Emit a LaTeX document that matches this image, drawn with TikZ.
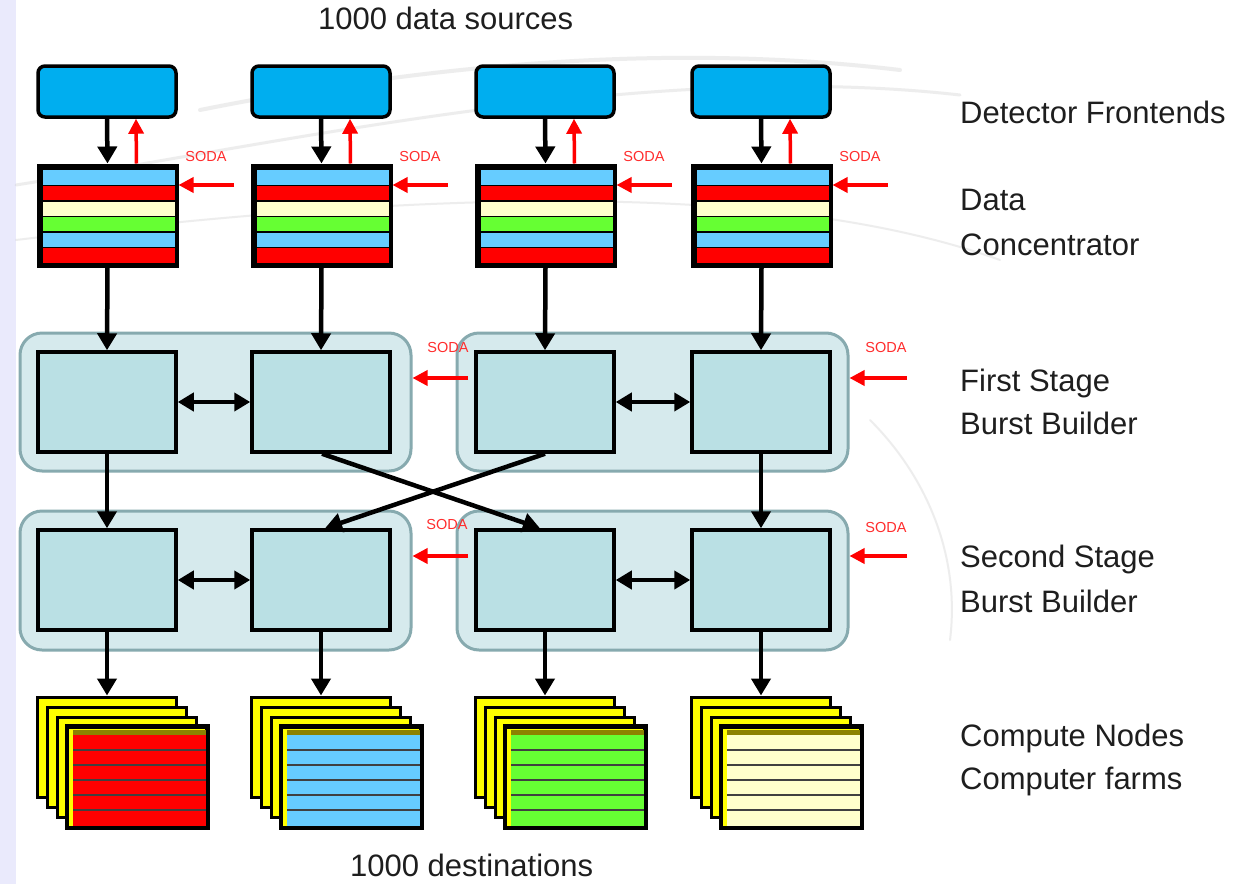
\documentclass[tikz,border=0pt]{standalone}
\usepackage{fontspec}
\setmainfont{Liberation Sans}
\usetikzlibrary{arrows.meta,calc}
\definecolor{feblue}{RGB}{0,174,239}
\definecolor{lblue}{RGB}{102,204,255}
\definecolor{sred}{RGB}{255,0,0}
\definecolor{cream}{RGB}{255,255,204}
\definecolor{sgreen}{RGB}{102,255,51}
\definecolor{grpfill}{RGB}{214,234,237}
\definecolor{grpdraw}{RGB}{135,170,175}
\definecolor{boxfill}{RGB}{186,224,228}
\definecolor{cardy}{RGB}{255,255,0}
\definecolor{olive}{RGB}{140,130,0}
\definecolor{lav}{RGB}{234,234,252}
\definecolor{sodared}{RGB}{255,45,45}
\definecolor{txt}{RGB}{30,30,30}
\definecolor{swoosh}{RGB}{205,205,205}
\tikzset{
 fe/.style={draw=black, line width=3.5pt, rounded corners=7pt, fill=feblue, minimum width=138pt, minimum height=51pt, inner sep=0pt},
 dcbox/.style={draw=black, line width=3pt, fill=black, minimum width=139pt, minimum height=101pt, inner sep=0pt},
 grp/.style={draw=grpdraw, line width=3pt, fill=grpfill, rounded corners=22pt, minimum width=391pt, minimum height=138pt, inner sep=0pt},
 bbox/.style={draw=black, line width=3.5pt, fill=boxfill, minimum width=138pt, minimum height=100pt, inner sep=0pt},
 card/.style={draw=black, line width=3pt, fill=cardy, minimum width=139pt, minimum height=100pt, inner sep=0pt},
 blk/.style={draw=black, line width=4.5pt, -{Triangle[length=17pt,width=19pt]}},
 dbl/.style={draw=black, line width=4.5pt, {Triangle[length=16pt,width=18pt]}-{Triangle[length=16pt,width=18pt]}},
 rarr/.style={draw=red, line width=3.5pt, -{Triangle[length=15pt,width=15pt]}},
 soda/.style={text=sodared, font=\fontsize{14.5}{16}\selectfont, inner sep=0pt},
 lbl/.style={text=txt, font=\fontsize{31}{36}\selectfont, inner sep=0pt, anchor=base west},
 swo/.style={draw=swoosh, opacity=0.35, line cap=round},
}
\begin{document}
\begin{tikzpicture}[x=1pt,y=-1pt]
\useasboundingbox (0,0) rectangle (1235,884);
\fill[white] (0,0) rectangle (1235,884);
\fill[lav] (0,0) rectangle (16,884);
% faint background swooshes
\draw[swo, line width=3pt] (16,185) .. controls (300,140) and (650,60) .. (960,95);
\draw[swo, line width=2pt] (16,240) .. controls (350,200) and (750,170) .. (1000,260);
\draw[swo, line width=4pt] (200,110) .. controls (400,70) and (650,40) .. (900,70);
\draw[swo, line width=2pt] (870,420) .. controls (930,480) and (960,560) .. (950,640);
% burst builder groups
\node[grp] (g1) at (215.5,402) {};
\node[grp] (g2) at (652.5,402) {};
\node[grp, minimum height=139pt] (g3) at (215.5,580.5) {};
\node[grp, minimum height=139pt] (g4) at (652.5,580.5) {};
\foreach \L/\c [count=\i] in {38/sred,252/lblue,476/sgreen,692/cream} {
  \node[fe] (fe\i) at (\L+69,91.5) {};
  \node[dcbox] (dc\i) at (\L+69.5,215.5) {};
  \foreach \col [count=\j from 0] in {lblue,sred,cream,sgreen,lblue,sred}
    \fill[\col] (\L+5,170+15.5*\j) rectangle (\L+137,185.5+15.5*\j);
  \foreach \j in {1,...,5}
    \draw[black, line width=1.2pt] (\L+5,170+15.5*\j) -- (\L+137,170+15.5*\j);
  \node[bbox] (a\i) at (\L+69,402) {};
  \node[bbox] (b\i) at (\L+69,580) {};
  \node[card] (cn\i) at (\L+69,747) {};
  \node[card] (cnb\i) at (\L+79,757) {};
  \node[card] (cnc\i) at (\L+89,767) {};
  \node[card] (cnd\i) at (\L+99,777) {};
  \fill[olive] (\L+35,729.5) rectangle (\L+167.5,735);
  \fill[\c] (\L+35,735) rectangle (\L+167.5,825.5);
  \foreach \j in {1,...,5}
    \draw[black!75, line width=2.5pt] (\L+35,735+15*\j) -- (\L+167.5,735+15*\j);
  \draw[black, line width=3pt] (cnd\i.north west) rectangle (cnd\i.south east);
  % arrows
  \draw[blk] (fe\i.south) -- (dc\i.north);
  \draw[rarr] ($(dc\i.north)+(29,0)$) -- ($(fe\i.south)+(29,0)$);
  \coordinate (s\i) at (\L+196,185);
  \draw[rarr] (s\i) -- (s\i -| dc\i.east);
  \node[soda] (sl\i) at (\L+168,157) {SODA};
  \draw[blk] (dc\i.south) -- (a\i.north);
  \draw[blk] (b\i.south) -- (cn\i.north);
}
\draw[blk] (a1.south) -- (b1.north);
\draw[blk] (a4.south) -- (b4.north);
\draw[blk] ([xshift=1pt]a2.south) -- ([xshift=-5pt]b3.north);
\draw[blk] (a3.south) -- ([xshift=4pt]b2.north);
\draw[dbl] (a1.east) -- (a2.west);
\draw[dbl] (a3.east) -- (a4.west);
\draw[dbl] (b1.east) -- (b2.west);
\draw[dbl] (b3.east) -- (b4.west);
% SODA for burst builders
\coordinate (t1) at (468,378);
\coordinate (t2) at (907,378);
\coordinate (t3) at (468,556);
\coordinate (t4) at (907,556);
\draw[rarr] (t1) -- (t1 -| g1.east);
\draw[rarr] (t2) -- (t2 -| g2.east);
\draw[rarr] (t3) -- (t3 -| g3.east);
\draw[rarr] (t4) -- (t4 -| g4.east);
\node[soda] (u1) at (448,348) {SODA};
\node[soda] (u2) at (886,348) {SODA};
\node[soda] (u3) at (447,525) {SODA};
\node[soda] (u4) at (886,528) {SODA};
% labels
\node[lbl] (top) at (318,29) {1000 data sources};
\node[lbl] (bot) at (350,876) {1000 destinations};
\node[lbl] (l1) at (960,123) {Detector Frontends};
\node[lbl] (l2) at (960,210) {Data};
\node[lbl] (l3) at (960,255) {Concentrator};
\node[lbl] (l4) at (960,391) {First Stage};
\node[lbl] (l5) at (960,434) {Burst Builder};
\node[lbl] (l6) at (960,567) {Second Stage};
\node[lbl] (l7) at (960,612) {Burst Builder};
\node[lbl] (l8) at (960,746) {Compute Nodes};
\node[lbl] (l9) at (960,789) {Computer farms};
\end{tikzpicture}
\end{document}
